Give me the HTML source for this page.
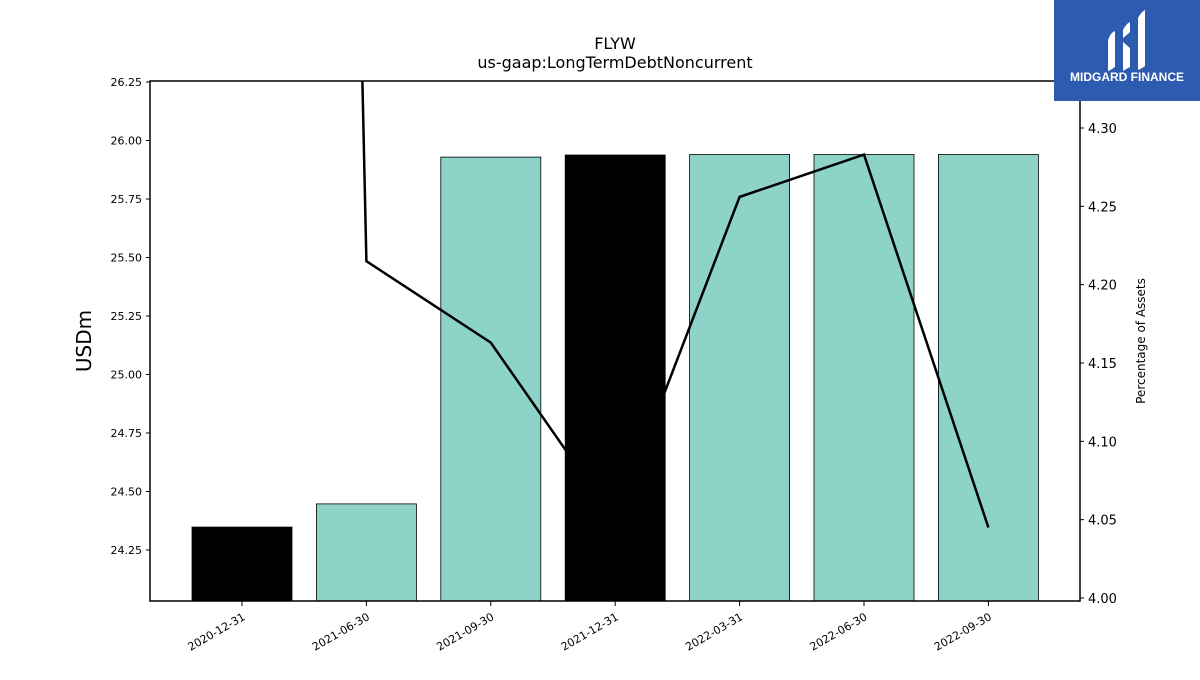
<!DOCTYPE html>
<html><head><meta charset="utf-8"><style>
body{margin:0;background:#fff;width:1200px;height:675px;overflow:hidden;font-family:"Liberation Sans","DejaVu Sans",sans-serif;}
</style></head><body>
<svg id="chart" width="1200" height="675" xmlns="http://www.w3.org/2000/svg" font-family="DejaVu Sans, Liberation Sans, sans-serif">
<text x="615" y="49" text-anchor="middle" font-size="16">FLYW</text>
<text x="615" y="68" text-anchor="middle" font-size="16">us-gaap:LongTermDebtNoncurrent</text>
<text transform="translate(91,341) rotate(-90)" text-anchor="middle" font-size="20">USDm</text>
<text transform="translate(1145,341) rotate(-90)" text-anchor="middle" font-size="12">Percentage of Assets</text>
<g id="bars"></g><g id="line"></g><g id="axes"></g>
<g>
<rect x="1054" y="0" width="146" height="101" fill="#2d5bb0"/>
<path d="M1108 40 q3-8 7-9 v36 q-4 3-7 4z M1123 30 q3-6 7-8 v10 q-3 3-7 6z M1123 42 l7 6 v19 q-4 2-7 4z M1138 18 q3-6 7-8 v56 q-4 3-7 4z M1130 48 l8-6" fill="#fff"/>
<text x="1127" y="81" text-anchor="middle" fill="#fff" font-size="12" font-weight="bold" font-family="Liberation Sans, sans-serif">MIDGARD FINANCE</text>
</g>
</svg>
<script>
const categories=["2020-12-31","2021-06-30","2021-09-30","2021-12-31","2022-03-31","2022-06-30","2022-09-30"];
const barValues=[24.348,24.447,25.929,25.938,25.940,25.940,25.940];
const barColors=["#000000","#8dd3c7","#8dd3c7","#000000","#8dd3c7","#8dd3c7","#8dd3c7"];
const pctValues=[7.78,4.215,4.163,4.049,4.256,4.283,4.045];
const leftTicks=[24.25,24.5,24.75,25.0,25.25,25.5,25.75,26.0,26.25];
const rightTicks=[4.0,4.05,4.1,4.15,4.2,4.25,4.3];
const NS="http://www.w3.org/2000/svg";
const X0=150,X1=1080,Y0=81,Y1=601;
const yL=v=>550-(v-24.25)*234;
const yR=v=>598-(v-4.0)*1566.7;
const xC=i=>242+i*124.4;
function mk(t,a,p){const e=document.createElementNS(NS,t);for(const k in a)e.setAttribute(k,a[k]);p.appendChild(e);return e;}
const gb=document.getElementById('bars'),gl=document.getElementById('line'),ga=document.getElementById('axes');
const cp=mk('clipPath',{id:'pc'},gb);mk('rect',{x:X0,y:Y0,width:X1-X0,height:Y1-Y0},cp);
barValues.forEach((v,i)=>{
 const r=mk('rect',{x:xC(i)-50,y:yL(v),width:100,height:Y1-yL(v),fill:barColors[i],stroke:'#000','stroke-width':0.8},gb);
 
 
});
const pts=pctValues.map((v,i)=>xC(i)+','+yR(v)).join(' ');
const pl=mk('polyline',{points:pts,fill:'none',stroke:'#000','stroke-width':2.5,'clip-path':'url(#pc)'},gl);


const fr=mk('rect',{x:X0,y:Y0,width:X1-X0,height:Y1-Y0,fill:'none',stroke:'#000','stroke-width':1.5},ga);


leftTicks.forEach(t=>{const y=yL(t);mk('line',{x1:X0-4,x2:X0,y1:y,y2:y,stroke:'#000'},ga);
 const tx=mk('text',{x:X0-8,y:y+4,'text-anchor':'end','font-size':11},ga);tx.textContent=t.toFixed(2);
 
 });
rightTicks.forEach(t=>{const y=yR(t);mk('line',{x1:X1,x2:X1+4,y1:y,y2:y,stroke:'#000'},ga);
 const tx=mk('text',{x:X1+8,y:y+5,'font-size':13},ga);tx.textContent=t.toFixed(2);
 
 });
categories.forEach((c,i)=>{const x=xC(i);mk('line',{x1:x,x2:x,y1:Y1,y2:Y1+5,stroke:'#000'},ga);
 const tx=mk('text',{x:x+4,y:Y1+18,'text-anchor':'end','font-size':11,transform:`rotate(-30 ${x+4} ${Y1+18})`},ga);tx.textContent=c;
 
 });
</script>
</body></html>
